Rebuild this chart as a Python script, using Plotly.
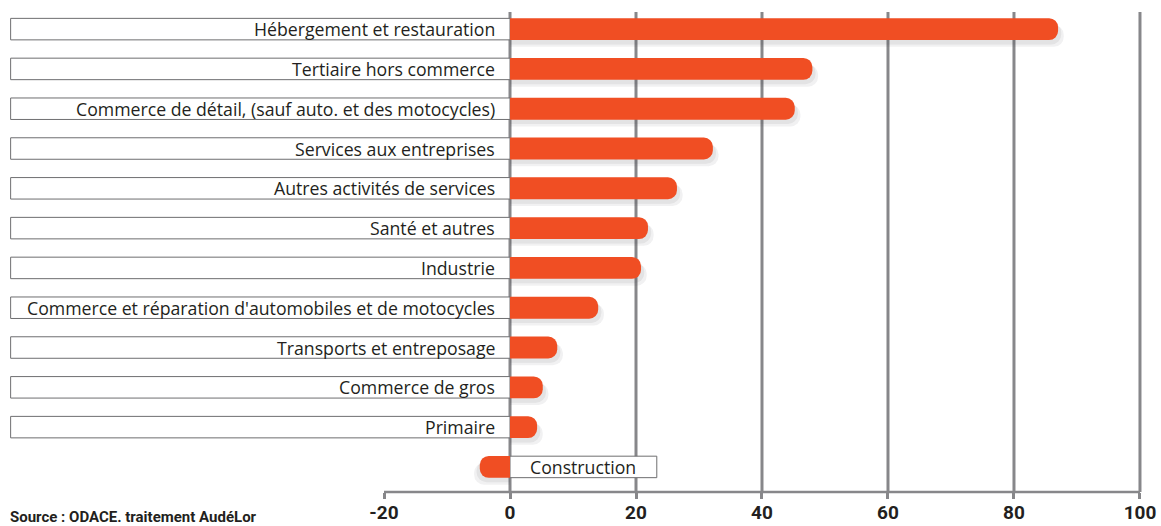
import plotly.graph_objects as go

categories = [
    "Hébergement et restauration",
    "Tertiaire hors commerce",
    "Commerce de détail, (sauf auto. et des motocycles)",
    "Services aux entreprises",
    "Autres activités de services",
    "Santé et autres",
    "Industrie",
    "Commerce et réparation d'automobiles et de motocycles",
    "Transports et entreposage",
    "Commerce de gros",
    "Primaire",
    "Construction",
]
values = [87.0, 48.0, 45.2, 32.2, 26.5, 21.9, 20.8, 14.0, 7.5, 5.2, 4.3, -4.8]
tick_values = [-20, 0, 20, 40, 60, 80, 100]
tick_labels = ["-20", "0", "20", "40", "60", "80", "100"]
grid_values = [0, 20, 40, 60, 80, 100]
source_text = "Source : ODACE. traitement AudéLor"

ORANGE = "#F04E23"
GRID = "#87878A"
BOX = "#6E6E70"
TEXT = "#231F20"
FONT = "Open Sans"
TICKFONT = "Roboto"

BAR_W = 0.55
X_LEFT = -79.37
X_RIGHT = 100.48

fig = go.Figure()

# soft shadow under the bars
for dy, dx, alpha in [(0.17, 0.9, 0.07), (0.11, 0.5, 0.08)]:
    fig.add_trace(go.Bar(
        y=categories,
        x=[v + (dx if v >= 0 else -dx) for v in values],
        orientation="h",
        width=BAR_W,
        offset=-BAR_W / 2 + dy,
        marker=dict(color=f"rgba(60,60,70,{alpha})", cornerradius=10, line=dict(width=0)),
        hoverinfo="skip",
        showlegend=False,
    ))

fig.add_trace(go.Bar(
    y=categories,
    x=values,
    orientation="h",
    width=BAR_W,
    offset=-BAR_W / 2,
    marker=dict(color=ORANGE, cornerradius=9, line=dict(width=0)),
    showlegend=False,
))

shapes = []
for g in grid_values:
    shapes.append(dict(type="line", xref="x", yref="paper", x0=g, x1=g, y0=0, y1=1,
                       line=dict(color=GRID, width=3), layer="below"))
shapes.append(dict(type="line", xref="x", yref="paper", x0=tick_values[0], x1=tick_values[-1],
                   y0=0, y1=0, line=dict(color=GRID, width=2.5), layer="below"))

annotations = []
for i, (c, v) in enumerate(zip(categories, values)):
    if v >= 0:
        x0, x1 = X_LEFT + 0.1, 0
        annotations.append(dict(x=0, y=c, xref="x", yref="y", text=c, showarrow=False,
                                xanchor="right", xshift=-13,
                                font=dict(family=FONT, size=17.7, color=TEXT)))
    else:
        x0, x1 = 0, 23.3
        annotations.append(dict(x=0, y=c, xref="x", yref="y", text=c, showarrow=False,
                                xanchor="left", xshift=18,
                                font=dict(family=FONT, size=17.7, color=TEXT)))
    shapes.append(dict(type="rect", xref="x", yref="y", x0=x0, x1=x1,
                       y0=i - 0.27, y1=i + 0.27,
                       line=dict(color=BOX, width=1), fillcolor="white", layer="below"))

annotations.append(dict(x=0, y=0, xref="paper", yref="paper", text=f"<b>{source_text}</b>",
                        showarrow=False, xanchor="left", yanchor="top", xshift=-2, yshift=-14,
                        font=dict(family=TICKFONT, size=15, color=TEXT)))

fig.update_layout(
    width=1161, height=526,
    margin=dict(l=10, r=18, t=12, b=34, autoexpand=False),
    paper_bgcolor="white", plot_bgcolor="white",
    barmode="overlay",
    xaxis=dict(range=[X_LEFT, X_RIGHT], tickvals=tick_values,
               ticktext=[f"<b>{t}</b>" for t in tick_labels],
               showgrid=False, zeroline=False, showline=False, automargin=False,
               ticks="outside", ticklen=6, tickwidth=3, tickcolor=GRID,
               tickfont=dict(family=TICKFONT, size=19, color=TEXT), ticklabelstandoff=-3),
    yaxis=dict(type="category", categoryorder="array", categoryarray=categories,
               range=[11.63, -0.43], showticklabels=False, showgrid=False,
               zeroline=False, showline=False, ticks="", automargin=False),
    shapes=shapes,
    annotations=annotations,
)

fig.write_html(
    "out.html",
    config={"displayModeBar": False},
    post_script="document.body.style.margin='0';document.body.style.overflow='hidden';",
)
